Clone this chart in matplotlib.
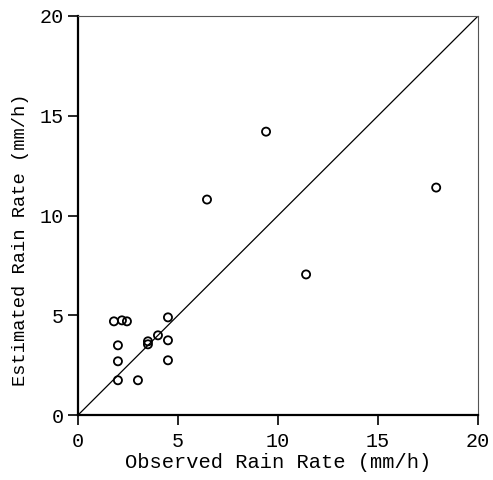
import matplotlib
matplotlib.use("Agg")
import matplotlib.pyplot as plt

observed = [1.8, 2.2, 2.45, 4.5, 2.0, 3.5, 3.5, 4.0, 4.5, 2.0, 4.5, 2.0, 3.0, 6.45, 9.4, 11.4, 17.9]
estimated = [4.7, 4.75, 4.7, 4.9, 3.5, 3.7, 3.55, 4.0, 3.75, 2.7, 2.75, 1.75, 1.75, 10.8, 14.2, 7.05, 11.4]
ticks = [0, 5, 10, 15, 20]
line_pts = [0, 20]

plt.rcParams['font.family'] = ['Liberation Mono', 'DejaVu Sans']

fig = plt.figure(figsize=(4.93, 4.80), dpi=100)
ax = fig.add_axes([0.158, 0.135, 0.812, 0.832])

ax.plot(line_pts, line_pts, color='black', lw=0.9)
ax.scatter(observed, estimated, s=34, facecolors='none', edgecolors='black', linewidths=1.3, zorder=3)

ax.set_xlim(0, 20)
ax.set_ylim(0, 20)
ax.set_xticks(ticks)
ax.set_yticks(ticks)
ax.tick_params(direction='out', length=7, width=1.2, labelsize=14.5, colors='black')
ax.tick_params(axis='x', pad=5)
ax.tick_params(axis='y', pad=3)

for s in ['left', 'bottom']:
    ax.spines[s].set_linewidth(1.6)
for s in ['top', 'right']:
    ax.spines[s].set_linewidth(0.8)
    ax.spines[s].set_color('#555555')

ax.set_xlabel('Observed Rain Rate (mm/h)', fontsize=14.7, labelpad=1.5)
ax.set_ylabel('Estimated Rain Rate (mm/h)', fontsize=13.5)
ax.yaxis.set_label_coords(-0.122, 0.44)

fig.savefig('out.png', dpi=100)
